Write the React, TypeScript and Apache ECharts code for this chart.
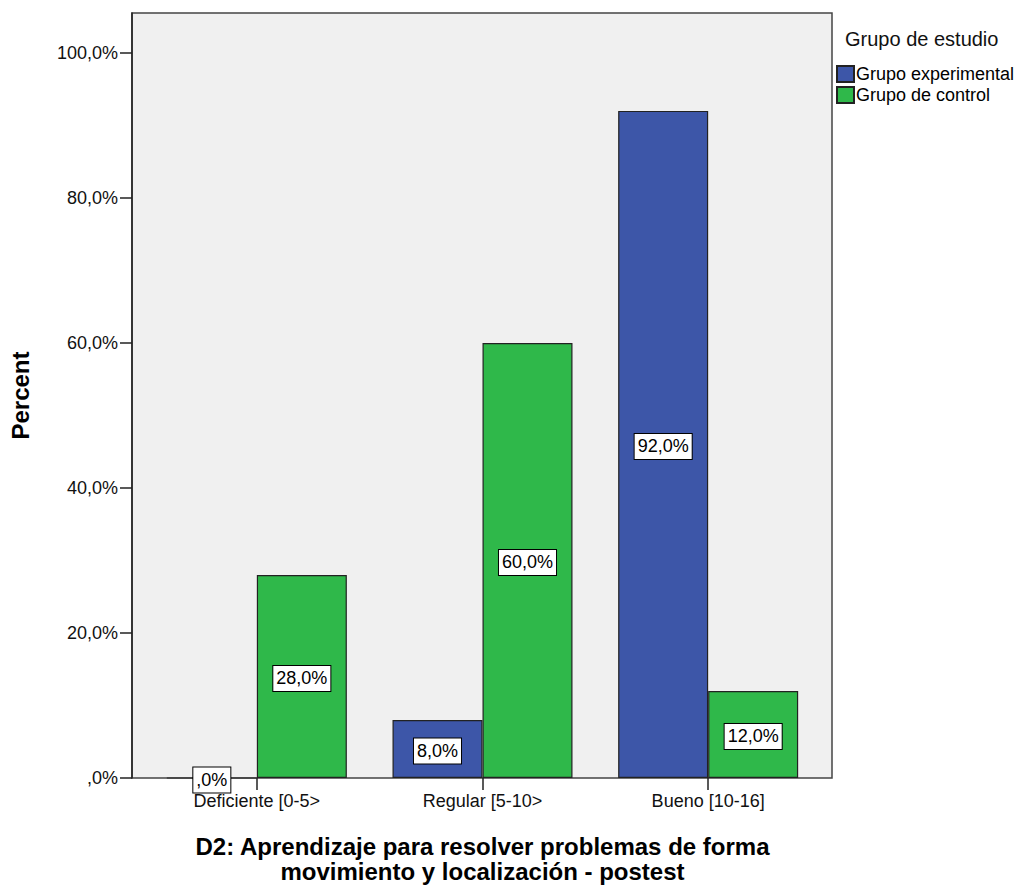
import React, { useEffect, useRef } from "react";
import * as echarts from "echarts";

const categories = ["Deficiente [0-5>", "Regular [5-10>", "Bueno [10-16]"];
const experimental = [0, 8, 92];
const control = [28, 60, 12];
const seriesNames = ["Grupo experimental", "Grupo de control"];
const yTicks = [0, 20, 40, 60, 80, 100];
const legendTitle = "Grupo de estudio";
const yName = "Percent";
const xName = "D2: Aprendizaje para resolver problemas de forma\nmovimiento y localización - postest";

const FONT = "'Liberation Sans', Arial, sans-serif";

const fmt = (v: number) => (v === 0 ? ",0%" : v.toFixed(1).replace(".", ",") + "%");

export default function App() {
  const ref = useRef<HTMLDivElement>(null);
  useEffect(() => {
    document.body.style.margin = "0";
    const chart = echarts.init(ref.current!, null, { renderer: "svg" });
    const label = {
      show: true,
      position: "inside",
      offset: [0, 2],
      formatter: (p: any) => fmt(p.value),
      color: "#000",
      fontFamily: FONT,
      fontSize: 18,
      backgroundColor: "#fff",
      borderColor: "#000",
      borderWidth: 1,
      padding: [4, 3, 3, 3],
    };
    chart.setOption({
      animation: false,
      backgroundColor: "#fff",
      grid: [
        { left: 132, right: 203, top: 13, bottom: 108, outerBoundsMode: "none", containLabel: false, show: true, backgroundColor: "#f0f0f0", borderColor: "#444", borderWidth: 1.5 },
        { left: 144, right: 214, top: 13, bottom: 108, outerBoundsMode: "none", containLabel: false },
      ],
      xAxis: [
        { type: "value", gridIndex: 0, show: false, min: 0, max: 1 },
        {
          type: "category",
          gridIndex: 1,
          data: categories,
          axisLine: { show: false },
          axisTick: { show: true, alignWithLabel: true, length: 12, lineStyle: { color: "#222", width: 1.5 } },
          axisLabel: { color: "#111", fontFamily: FONT, fontSize: 18, margin: 14 },
          name: xName,
          nameLocation: "middle",
          nameGap: 56,
          nameTextStyle: { color: "#000", fontFamily: FONT, fontSize: 24, fontWeight: "bold", lineHeight: 25 },
        },
      ],
      yAxis: [
        {
          type: "value",
          gridIndex: 0,
          min: 0,
          max: 105.5,
          splitLine: { show: false },
          axisLine: { show: true, lineStyle: { color: "#222", width: 1.5 } },
          axisTick: { show: true, length: 12, customValues: yTicks, lineStyle: { color: "#222", width: 1.5 } },
          axisLabel: {
            color: "#111",
            fontFamily: FONT,
            fontSize: 18,
            margin: 14,
            customValues: yTicks,
            formatter: (v: number) => fmt(v),
          },
          name: yName,
          nameLocation: "middle",
          nameGap: 100,
          nameTextStyle: { color: "#000", fontFamily: FONT, fontSize: 24, fontWeight: "bold" },
        },
        { type: "value", gridIndex: 1, min: 0, max: 105.5, show: false },
      ],
      legend: {
        left: 836,
        top: 65,
        padding: 0,
        orient: "vertical",
        icon: "rect",
        itemWidth: 17,
        itemHeight: 16,
        itemGap: 3,
        data: seriesNames,
        textStyle: { color: "#000", fontFamily: FONT, fontSize: 18, padding: [0, 0, 0, -3] },
      },
      graphic: [
        {
          type: "text",
          left: 845,
          top: 29,
          style: { text: legendTitle, fill: "#111", font: `20px ${FONT}` },
        },
      ],
      series: [
        {
          name: seriesNames[0],
          type: "bar",
          xAxisIndex: 1,
          yAxisIndex: 1,
          data: experimental,
          barWidth: 90,
          barGap: "0%",
          itemStyle: { color: "#3d56a8", borderColor: "#222", borderWidth: 1.2 },
          label,
        },
        {
          name: seriesNames[1],
          type: "bar",
          xAxisIndex: 1,
          yAxisIndex: 1,
          data: control,
          barWidth: 90,
          barGap: "0%",
          itemStyle: { color: "#2fb84a", borderColor: "#222", borderWidth: 1.2 },
          label,
        },
      ],
    });
    return () => chart.dispose();
  }, []);
  return <div ref={ref} style={{ width: 1035, height: 886 }} />;
}
